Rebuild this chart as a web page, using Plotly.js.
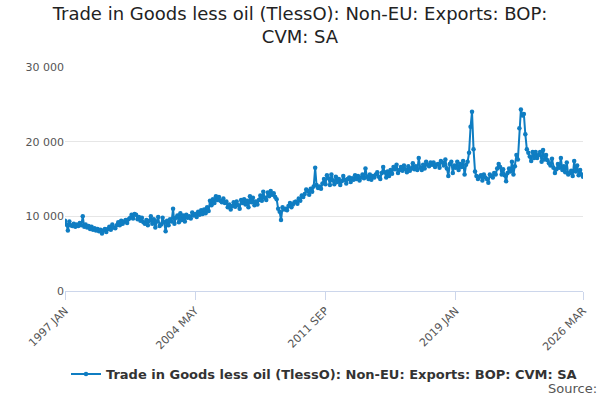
<!DOCTYPE html>
<html><head><meta charset="utf-8">
<script src="https://cdn.plot.ly/plotly-3.0.1.min.js"></script>
<style>body{margin:0}#c{width:600px;height:400px}</style></head>
<body><div id="c"></div>
<script>
const seriesName = "Trade in Goods less oil (TlessO): Non-EU: Exports: BOP: CVM: SA";
const startYear = 1997;
// monthly values, one row per year
const values = [
  9400, 8900, 8100, 9300, 8800, 8700, 9000, 8600, 8900, 8700, 9100, 8800,
  10000, 8600, 8900, 8500, 8700, 8300, 8600, 8200, 8400, 8100, 8300, 8000,
  8200, 7700, 8100, 8300, 7900, 8300, 8600, 8200, 8900, 8500, 8400, 8800,
  9200, 8800, 9400, 9000, 9300, 9500, 9100, 9600, 9800, 10200, 9700, 10300,
  10200, 9600, 9900, 9400, 9800, 9200, 9000, 9500, 8800, 9400, 10000, 9000,
  9600, 8500, 9300, 9900, 8700, 8900, 9800, 9200, 8000, 9400, 8800, 9600,
  9300, 11000, 9000, 9800, 10100, 9200, 10400, 9500, 10100, 9300, 10200, 9800,
  10000, 9700, 10500, 10100, 10300, 9900, 10600, 10200, 10800, 10300, 10900, 10400,
  11200, 10700, 12100, 11500, 12300, 11800, 12700, 12200, 12600, 12100, 11900, 12400,
  11800, 12000, 11200, 11600, 10900, 11400, 11900, 11300, 12000, 11500, 11000, 12200,
  11800, 12300, 11600, 12100, 11200, 12700, 11900, 12500, 11500, 12000, 11600, 12200,
  12800, 12100, 13300, 12500, 12200, 13200, 12700, 13400, 12900, 13100, 12600, 12300,
  11000, 10600, 9500, 11200, 10900, 11000, 10800, 11400, 11800, 11200, 11600, 11900,
  12000, 11700, 12400, 12100, 12800, 12600, 13000, 13600, 13400, 12900, 13700, 13300,
  14000, 16500, 14200, 13800, 14000, 13700, 14400, 15000, 14300, 15500, 15100, 14200,
  15600, 14800, 14300, 15300, 14600, 15000, 14200, 14700, 15400, 14900, 14400, 15000,
  15200, 14600, 15100, 14900, 15500, 15000, 15400, 14800, 15200, 15600, 15100, 16400,
  15300, 15000, 15600, 14900, 15400, 15200, 15600, 15900, 15300, 15000, 15800, 16600,
  15900, 15200, 16000, 15400, 16200, 15700, 16600, 16300, 16900, 15800, 16200, 16600,
  16100, 16800, 16300, 15900, 16700, 16100, 16400, 17100, 16300, 16700, 16200, 17800,
  16500, 16200, 16900, 16400, 17300, 16900, 16700, 17200, 16900, 17200, 16600, 16900,
  17000, 16500, 17400, 17200, 16800, 17600, 16400, 15400, 17000, 17300, 15800, 16800,
  16500, 17300, 16200, 17000, 16600, 17400, 15600, 16900, 17300, 18500, 22000, 24000,
  19000, 16000, 15400, 15000, 15300, 15500, 14800, 15600, 15200, 15000, 14500, 15600,
  15400, 15200, 15800, 15600, 16400, 17000, 16600, 15600, 16300, 15500, 14700, 15800,
  16400, 16000, 17300, 15600, 16700, 18200, 17600, 21800, 24300, 23500, 23700, 21000,
  19000, 18500, 18000, 17400, 18600, 17800, 18600, 17800, 18200, 18600, 17300, 18900,
  17600, 18200, 17500, 17100, 16800, 17700, 16500, 15800, 16300, 17000, 16500, 17800,
  16200, 16700, 15900, 17200, 15600, 15800, 16100, 15400, 17400, 16000, 16800, 15500,
  16200, 15600, 15300
];
const dates = values.map((v, i) => {
  const y = startYear + Math.floor(i / 12), m = (i % 12) + 1;
  return y + "-" + String(m).padStart(2, "0") + "-01";
});
const tickVals = ["1997-01-01", "2004-05-01", "2011-09-01", "2019-01-01", "2026-03-01"];
const tickText = ["1997 JAN", "2004 MAY", "2011 SEP", "2019 JAN", "2026 MAR"];

Plotly.newPlot("c", [{
  x: dates, y: values, name: seriesName,
  type: "scatter", mode: "lines+markers",
  line: { color: "#0f7dc2", width: 2 },
  marker: { color: "#0f7dc2", size: 4.5 },
  showlegend: true
}], {
  width: 600, height: 400,
  font: { family: "DejaVu Sans", color: "#333" },
  title: { text: "Trade in Goods less oil (TlessO): Non-EU: Exports: BOP:<br>CVM: SA", font: { size: 18, color: "#222" }, x: 0.5, y: 0.95 },
  margin: { l: 65, r: 17, t: 67, b: 108 },
  xaxis: {
    type: "date", range: ["1997-01-01", "2026-03-01"], automargin: false,
    tickvals: tickVals, ticktext: tickText, tickangle: -45,
    tickfont: { size: 11, color: "#555" },
    showgrid: false, showline: true, linecolor: "#ccd6eb",
    ticks: "outside", tickcolor: "#ccd6eb", ticklen: 8
  },
  yaxis: {
    range: [0, 30000], tickvals: [0, 10000, 20000, 30000], automargin: false,
    ticktext: ["0", "10 000", "20 000", "30 000"],
    tickfont: { size: 11, color: "#555" },
    gridcolor: "#e6e6e6", zeroline: false, fixedrange: true
  },
  legend: { orientation: "h", x: 0.5, xanchor: "center", yanchor: "middle", y: -0.365, font: { size: 13, color: "#333", weight: "bold" } },
  annotations: [{ text: "Source:", xref: "paper", yref: "paper", x: 1.03, y: -0.435, xanchor: "right", yanchor: "middle", showarrow: false, font: { size: 13, color: "#555" } }]
}, { displayModeBar: false });
</script></body></html>
